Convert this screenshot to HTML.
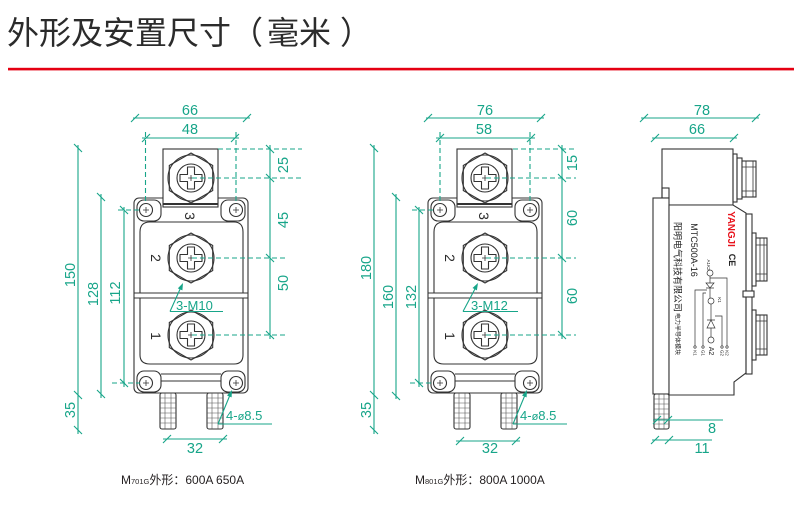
<!DOCTYPE html>
<html><head><meta charset="utf-8">
<style>
html,body{margin:0;padding:0;background:#fff;width:800px;height:522px;overflow:hidden;}
svg{display:block;}
text{font-family:"Liberation Sans","Noto Sans CJK SC",sans-serif;}
</style></head><body>
<svg width="800" height="522" viewBox="0 0 800 522">
<rect x="0" y="0" width="800" height="522" fill="#fff"/>
<!-- title -->
<text x="7" y="44" font-size="32" fill="#2b2b2b" style="font-family:'Liberation Sans','Noto Sans CJK SC',sans-serif">外形及安置尺寸（<tspan dx="4">毫米</tspan><tspan dx="9">）</tspan></text>
<rect x="8" y="67.8" width="786" height="2.6" fill="#e50012"/>

<!-- module A body -->
<g id="modA" fill="none" stroke="#333" stroke-width="1.1">
  <rect x="134" y="198" width="114" height="195" rx="5" fill="#fff"/>
  <path d="M140,232 Q140,222 150,222 H234 Q243,222 243,232 V293 H140 Z"/>
  <path d="M140,298 H243 V355 Q243,364 234,364 H150 Q140,364 140,355 Z"/>
  <line x1="134" y1="293" x2="248" y2="293"/>
  <line x1="134" y1="298" x2="248" y2="298"/>
  <rect x="137" y="200" width="24" height="21" rx="7" fill="#fff"/>
  <rect x="221" y="200" width="24" height="21" rx="7" fill="#fff"/>
  <rect x="137" y="371" width="24" height="21" rx="7" fill="#fff"/>
  <rect x="221" y="371" width="24" height="21" rx="7" fill="#fff"/>
  <path d="M161,374 H221 M161,381 H221"/>
  <rect x="163" y="149" width="55" height="58" fill="#fff"/>
  <line x1="163" y1="204" x2="218" y2="204" stroke-width="2"/>
  <!-- holes -->
  <circle cx="146" cy="210" r="6.5" fill="#fff"/><path d="M143,210h6M146,207v6" stroke-width="0.8"/>
  <circle cx="236" cy="210" r="6.5" fill="#fff"/><path d="M233,210h6M236,207v6" stroke-width="0.8"/>
  <circle cx="146" cy="383" r="6.5" fill="#fff"/><path d="M143,383h6M146,380v6" stroke-width="0.8"/>
  <circle cx="236" cy="383" r="6.5" fill="#fff"/><path d="M233,383h6M236,380v6" stroke-width="0.8"/>
  <!-- screws -->
  <g transform="translate(191,178)">
    <circle r="23" fill="#fff"/>
    <polygon points="0,-25 21.7,-12.5 21.7,12.5 0,25 -21.7,12.5 -21.7,-12.5"/>
    <circle r="14"/>
    <path d="M-3.5,-11 L3.5,-11 L3.5,-3.5 L11,-3.5 L11,3.5 L3.5,3.5 L3.5,11 L-3.5,11 L-3.5,3.5 L-11,3.5 L-11,-3.5 L-3.5,-3.5 Z" stroke-linejoin="round"/>
    <path d="M-3,0H3M0,-3V3" stroke-width="0.8"/>
  </g>
  <g transform="translate(191,258)">
    <circle r="23" fill="#fff"/>
    <polygon points="0,-25 21.7,-12.5 21.7,12.5 0,25 -21.7,12.5 -21.7,-12.5"/>
    <circle r="14"/>
    <path d="M-3.5,-11 L3.5,-11 L3.5,-3.5 L11,-3.5 L11,3.5 L3.5,3.5 L3.5,11 L-3.5,11 L-3.5,3.5 L-11,3.5 L-11,-3.5 L-3.5,-3.5 Z" stroke-linejoin="round"/>
    <path d="M-3,0H3M0,-3V3" stroke-width="0.8"/>
  </g>
  <g transform="translate(191,335)">
    <circle r="23" fill="#fff"/>
    <polygon points="0,-25 21.7,-12.5 21.7,12.5 0,25 -21.7,12.5 -21.7,-12.5"/>
    <circle r="14"/>
    <path d="M-3.5,-11 L3.5,-11 L3.5,-3.5 L11,-3.5 L11,3.5 L3.5,3.5 L3.5,11 L-3.5,11 L-3.5,3.5 L-11,3.5 L-11,-3.5 L-3.5,-3.5 Z" stroke-linejoin="round"/>
    <path d="M-3,0H3M0,-3V3" stroke-width="0.8"/>
  </g>
  <!-- pins -->
  <g transform="translate(160,393)">
    <rect x="0" y="0" width="16" height="36" rx="2" fill="#fff"/>
    <path d="M0,5H16M0,10H16M0,15H16M0,20H16M0,25H16M0,30H16M5,0V36M11,0V36" stroke-width="0.6" stroke="#555"/>
  </g>
  <g transform="translate(207,393)">
    <rect x="0" y="0" width="16" height="36" rx="2" fill="#fff"/>
    <path d="M0,5H16M0,10H16M0,15H16M0,20H16M0,25H16M0,30H16M5,0V36M11,0V36" stroke-width="0.6" stroke="#555"/>
  </g>
</g>
<!-- module B body (same shape) -->
<use href="#modA" transform="translate(294,0)"/>

<!-- terminal numbers -->
<g fill="#2b2b2b" font-size="14" text-anchor="middle">
  <text transform="translate(185,216) rotate(90)">3</text>
  <text transform="translate(151,258) rotate(90)">2</text>
  <text transform="translate(151,336) rotate(90)">1</text>
  <text transform="translate(479,216) rotate(90)">3</text>
  <text transform="translate(445,258) rotate(90)">2</text>
  <text transform="translate(445,336) rotate(90)">1</text>
</g>

<!-- module C (side view) -->
<g fill="none" stroke="#333" stroke-width="1.1">
  <rect x="662" y="149" width="71" height="56" fill="#fff"/>
  <rect x="733" y="154" width="4" height="48"/>
  <rect x="737" y="158" width="5" height="41"/>
  <rect x="742" y="161" width="14" height="36" fill="#fff"/>
  <path d="M742,167H756M742,191H756M746,161V197M753,161V197" stroke-width="0.8"/>
  <rect x="662" y="188" width="7" height="10"/>
  <rect x="653" y="198" width="16" height="196" fill="#fff"/>
  <path d="M669,205 H733 L746,213 V373 L734,382 V395 H669 Z" fill="#fff"/>
  <rect x="746" y="214" width="6" height="160"/>
  <rect x="743" y="291" width="11" height="6" fill="#fff"/>
  <rect x="752" y="233" width="4" height="53"/>
  <rect x="756" y="238" width="11" height="43" fill="#fff"/>
  <path d="M756,245H767M756,274H767M760,238V281M764,238V281" stroke-width="0.8"/>
  <rect x="752" y="310" width="4" height="50"/>
  <rect x="756" y="315" width="11" height="40" fill="#fff"/>
  <path d="M756,321H767M756,349H767M760,315V355M764,315V355" stroke-width="0.8"/>
  <g transform="translate(654,394)">
    <rect x="0" y="0" width="15" height="35" rx="2" fill="#fff"/>
    <path d="M0,5H15M0,10H15M0,15H15M0,20H15M0,25H15M0,30H15M5,0V35M10,0V35" stroke-width="0.6" stroke="#555"/>
  </g>
  <!-- circuit -->
  <g stroke-width="0.7">
    <circle cx="710" cy="273" r="3"/>
    <path d="M710,276V283"/>
    <polygon points="706,283 714,283 710,288"/>
    <path d="M706,288H714M710,288V298"/>
    <circle cx="711" cy="301" r="3"/>
    <path d="M711,304V320"/>
    <polygon points="707,328 715,328 711,320"/>
    <path d="M707,320H715M711,328V337"/>
    <circle cx="711" cy="340" r="3"/>
    <path d="M707,290H695V346M706,293H703V346M715,316H722V346M710,278H727V346"/>
    <circle cx="695" cy="347" r="1.2"/><circle cx="703" cy="347" r="1.2"/>
    <circle cx="722" cy="347" r="1.2"/><circle cx="727" cy="347" r="1.2"/>
  </g>
</g>
<!-- panel text -->
<text transform="translate(728,229) rotate(90)" text-anchor="middle" font-size="9.8" font-weight="bold" fill="#e8141d">YANGJI</text>
<text transform="translate(729,260) rotate(90)" text-anchor="middle" font-size="9" font-weight="bold" fill="#222">CE</text>
<text transform="translate(691,250) rotate(90)" text-anchor="middle" font-size="9" fill="#222">MTC500A-16</text>
<text transform="translate(674.6,267) rotate(90)" text-anchor="middle" font-size="9" fill="#222">阳明电气科技有限公司</text>
<text transform="translate(675.7,334) rotate(90)" text-anchor="middle" font-size="6" fill="#222">电力半导体模块</text>
<g fill="#222" font-size="4.5" text-anchor="middle">
  <text transform="translate(707,265) rotate(90)">A1K2</text>
  <text transform="translate(718,300) rotate(90)">K1</text>
  <text transform="translate(709,351) rotate(90)" font-size="7">A2</text>
  <text transform="translate(693.5,353) rotate(90)">K1</text>
  <text transform="translate(701.5,353) rotate(90)">G1</text>
  <text transform="translate(720.5,353) rotate(90)">G2</text>
  <text transform="translate(725.5,353) rotate(90)">K2</text>
</g>

<!-- teal dimensions -->
<g stroke="#17a589" stroke-width="1.1" fill="none">
  <!-- module A -->
  <path d="M133,118H250 M131,122l8,-8 M243,122l8,-8"/>
  <path d="M142,138H239 M142,142l8,-8 M231,142l8,-8"/>
  <path d="M270,145V339 M266,145l8,8 M266,174l8,8 M266,254l8,8 M266,331l8,8"/>
  <path d="M78,145V434 M74,144l8,8 M74,391l8,8 M74,426l8,8"/>
  <path d="M101,194V398 M97,193l8,8 M97,390l8,8"/>
  <path d="M124,207V387 M120,206l8,8 M120,379l8,8"/>
  <path d="M163,439H227 M163,443l8,-8 M219,443l8,-8"/>
  <path d="M170,311.5H223 M170,311.5L181,287"/>
  <path d="M218,424H272 M218,424L230,395"/>
  <g stroke-dasharray="5,3">
    <path d="M145.5,132V204 M236,132V204"/>
    <path d="M218,149H302 M192,178H302 M192,258H285 M192,335H287"/>
    <path d="M118,210H140 M112,383H140"/>
  </g>
  <!-- module B -->
  <path d="M426,118H544 M424,122l8,-8 M537,122l8,-8"/>
  <path d="M436,138H535 M436,142l8,-8 M527,142l8,-8"/>
  <path d="M562,145V339 M558,145l8,8 M558,174l8,8 M558,254l8,8 M558,331l8,8"/>
  <path d="M374,145V434 M370,144l8,8 M370,391l8,8 M370,426l8,8"/>
  <path d="M396,194V399 M392,193l8,8 M392,392l8,8"/>
  <path d="M419,207V387 M415,206l8,8 M415,379l8,8"/>
  <path d="M456,441H520 M456,445l8,-8 M512,445l8,-8"/>
  <path d="M463,311.5H518 M463,311.5L476,287"/>
  <path d="M513,424H567 M513,424L525,395"/>
  <g stroke-dasharray="5,3">
    <path d="M440,132V204 M530,132V204"/>
    <path d="M513,149H576 M486,178H576 M486,258H576 M486,335H576"/>
    <path d="M412,210H434 M410,383H434"/>
  </g>
  <!-- module C -->
  <path d="M641,118H759 M640,122l8,-8 M752,122l8,-8"/>
  <path d="M652,138H737 M651,142l8,-8 M730,142l8,-8"/>
  <path d="M653,420H723 M653,424l8,-8 M664,424l8,-8"/>
  <path d="M652,440H712 M651,444l8,-8 M665,444l8,-8"/>
</g>
<!-- arrowheads -->
<g fill="#17a589">
  <polygon points="183,283 182.4,290.4 177.8,288.4"/>
  <polygon points="478,283 476.9,290.4 472.5,288.0"/>
  <polygon points="232,390 231.6,397.4 227.0,395.5"/>
  <polygon points="527,390 526.6,397.4 522.0,395.5"/>
</g>
<!-- dimension text -->
<g fill="#17a589" font-size="14.5" text-anchor="middle">
  <text x="190" y="115">66</text>
  <text x="190" y="134">48</text>
  <text transform="translate(288,165) rotate(-90)">25</text>
  <text transform="translate(288,220) rotate(-90)">45</text>
  <text transform="translate(288,283) rotate(-90)">50</text>
  <text transform="translate(75,275) rotate(-90)">150</text>
  <text transform="translate(98,294) rotate(-90)">128</text>
  <text transform="translate(120,293) rotate(-90)">112</text>
  <text transform="translate(75,410) rotate(-90)">35</text>
  <text x="195" y="453">32</text>

  <text x="485" y="115">76</text>
  <text x="484" y="134">58</text>
  <text transform="translate(577,163) rotate(-90)">15</text>
  <text transform="translate(577,218) rotate(-90)">60</text>
  <text transform="translate(577,296) rotate(-90)">60</text>
  <text transform="translate(371,268) rotate(-90)">180</text>
  <text transform="translate(393,297) rotate(-90)">160</text>
  <text transform="translate(416,297) rotate(-90)">132</text>
  <text transform="translate(371,410) rotate(-90)">35</text>
  <text x="490" y="453">32</text>

  <text x="702" y="115">78</text>
  <text x="697" y="134">66</text>
  <text x="712" y="433">8</text>
  <text x="702" y="453">11</text>
</g>
<g fill="#17a589" font-size="13">
  <text x="176" y="310">3-M10</text>
  <text x="471" y="310">3-M12</text>
  <text x="226" y="420">4-<tspan font-size="11">ø</tspan>8.5</text>
  <text x="520" y="420">4-<tspan font-size="11">ø</tspan>8.5</text>
</g>

<!-- captions -->
<text x="121" y="484" font-size="12" fill="#231f20">M<tspan font-size="7.5">701G</tspan>外形：600A 650A</text>
<text x="415" y="484" font-size="12" fill="#231f20">M<tspan font-size="7.5">801G</tspan>外形：800A 1000A</text>
</svg>
</body></html>
